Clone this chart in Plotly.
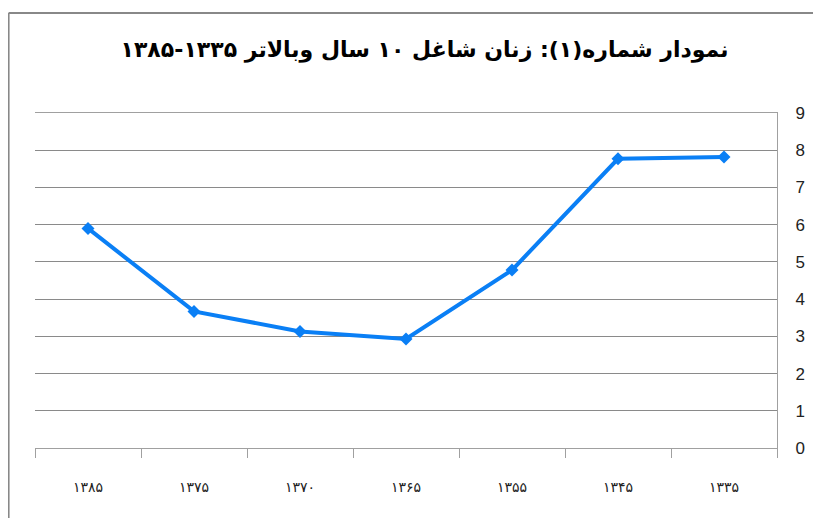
import plotly.graph_objects as go

categories = ["۱۳۸۵", "۱۳۷۵", "۱۳۷۰", "۱۳۶۵", "۱۳۵۵", "۱۳۴۵", "۱۳۳۵"]
values = [5.9, 3.67, 3.13, 2.93, 4.78, 7.77, 7.82]
y_ticks = list(range(0, 10))
title_text = "نمودار شماره(۱): زنان شاغل ۱۰ سال وبالاتر ۱۳۳۵-۱۳۸۵"

fig = go.Figure()
fig.add_trace(go.Scatter(
    x=categories, y=values, mode="lines+markers",
    line=dict(color="#0a7ff5", width=4),
    marker=dict(symbol="diamond", size=10, color="#0a7ff5"),
    showlegend=False,
))

fig.update_layout(
    width=805, height=510,
    margin=dict(l=27, r=36, t=105, b=70, autoexpand=False),
    paper_bgcolor="white", plot_bgcolor="white",
    title=dict(text=title_text, xref="paper", x=0.525, xanchor="center",
               y=0.92, yanchor="middle",
               font=dict(family="DejaVu Sans", size=22, color="black", weight="bold")),
    xaxis=dict(
        type="category", tickson="boundaries", ticks="outside", ticklen=9,
        tickcolor="#a0a0a0", showgrid=False, showline=True, linecolor="#a0a0a0",
        linewidth=1, ticklabelstandoff=26, mirror=True, automargin=False,
        tickfont=dict(family="DejaVu Sans", size=14, color="#222"),
        range=[-0.5, 6.5],
    ),
    yaxis=dict(
        side="right", range=[0, 9], tickvals=y_ticks, showgrid=True,
        gridcolor="#8a8a8a", gridwidth=1, showline=True, linecolor="#a0a0a0",
        zeroline=False, ticks="", ticklabelstandoff=14, automargin=False,
        tickfont=dict(family="Liberation Sans", size=17, color="#222"),
    ),
    shapes=[
        dict(type="line", xref="paper", yref="paper", x0=-0.0356, x1=-0.0356,
             y0=-0.3, y1=1.2985, line=dict(color="#888", width=2)),
        dict(type="line", xref="paper", yref="paper", x0=-0.0356, x1=1.1,
             y0=1.2985, y1=1.2985, line=dict(color="#888", width=2)),
    ],
)

fig.write_html("out.html", config={"displayModeBar": False})
